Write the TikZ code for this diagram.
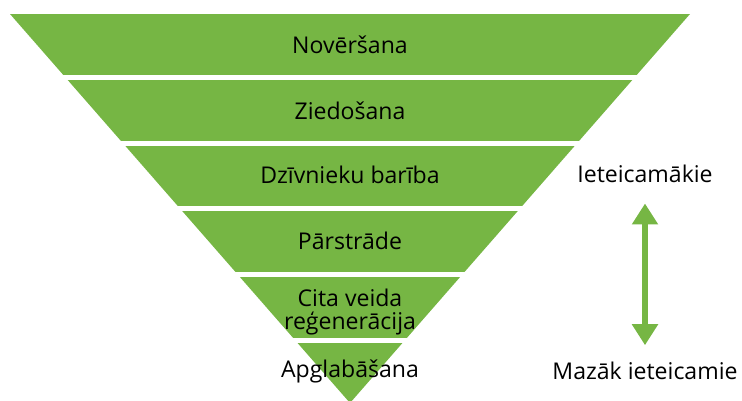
\documentclass[tikz,border=0pt]{standalone}
\usepackage{fontspec}
\setmainfont{Open Sans}
\usepackage{tikz}
\usetikzlibrary{arrows.meta}
\definecolor{leaf}{RGB}{118,182,68}

\begin{document}
\begin{tikzpicture}[x=0.75pt,y=0.75pt,
    level/.style={font=\fontsize{17.3}{17.25}\selectfont, anchor=base, align=center, inner sep=0pt},
    side/.style={font=\fontsize{17.3}{17.25}\selectfont, anchor=base, inner sep=0pt}]
        \useasboundingbox (0,0) rectangle (742,400);
        \begin{scope}
          \clip (10,386) -- (690,386) -- (350,-3) -- cycle;
          \foreach \top/\bot in {386/325, 320/259, 254/194, 189/128, 123/62, 57/-5}
            \fill[leaf] (0,\top) rectangle (742,\bot);
        \end{scope}
        \node[level] (prevent) at (350,346) {Novēršana};
        \node[level] (donate) at (350,280) {Ziedošana};
        \node[level] (feed) at (350,216) {Dzīvnieku barība};
        \node[level] (recycle) at (350,150) {Pārstrāde};
        \node[level] (recover) at (350,71) {Cita veida\\reģenerācija};
        \node[level] (dispose) at (350,23) {Apglabāšana};
        \node[side] (most) at (645,217) {Ieteicamākie};
        \node[side] (least) at (645,21) {Mazāk ieteicamie};
        \draw[leaf, line width=4.5pt, {Triangle[length=15.75pt,width=18.75pt]}-{Triangle[length=15.75pt,width=18.75pt]},
          shorten <=15pt, shorten >=12pt] (most.south) -- (least.north);
      \end{tikzpicture}
\end{document}
